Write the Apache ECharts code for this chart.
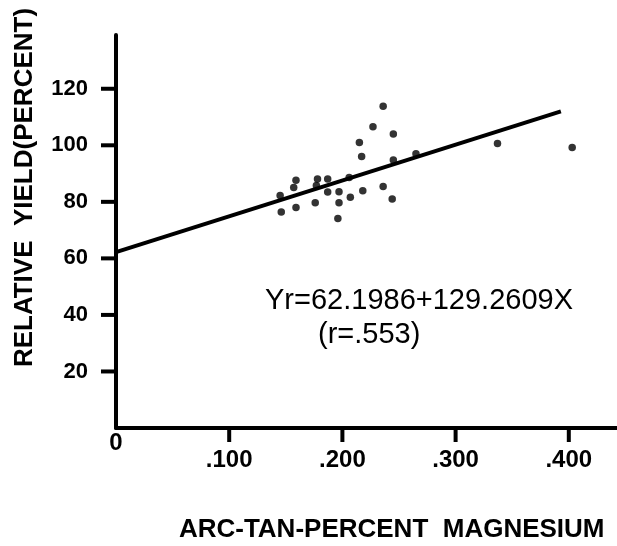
<!DOCTYPE html>
<html>
<head>
<meta charset="utf-8">
<script src="https://cdn.jsdelivr.net/npm/echarts@6/dist/echarts.min.js"></script>
<style>
html,body{margin:0;padding:0;background:#fff;}
#chart{width:617px;height:546px;}
</style>
</head>
<body>
<div id="chart"></div>
<script>
// Observed points: arc-tan-percent magnesium vs relative yield (percent)
const magX = [0.145, 0.146, 0.157, 0.159, 0.159, 0.176, 0.177, 0.178, 0.187, 0.187,
              0.197, 0.197, 0.196, 0.206, 0.207, 0.215, 0.217, 0.218, 0.227, 0.236,
              0.236, 0.245, 0.245, 0.244, 0.265, 0.337, 0.403];
const yieldY = [82.2, 76.4, 85.1, 87.6, 78.0, 79.7, 85.8, 88.1, 88.1, 83.5,
                83.6, 79.7, 74.1, 88.6, 81.6, 101.0, 96.0, 83.9, 106.6, 113.8,
                85.4, 104.0, 94.8, 81.0, 97.0, 100.6, 99.2];
// Regression line endpoints as drawn
const fitX = [0, 0.393];
const fitY = [62.2, 112.0];
// Tick values
const xTicks = [0.1, 0.2, 0.3, 0.4];
const xLabels = [0, 0.1, 0.2, 0.3, 0.4];
const yTicks = [20, 40, 60, 80, 100, 120];
const eqLine1 = 'Yr=62.1986+129.2609X';
const eqLine2 = '(r=.553)';

// layout
const GL = 116, G0 = 428;            // pixel of x=0 / y=0
const XMAX = 0.45, XPX = 1132;       // px per unit x
const YMAX = 139, YPX = 2.827;       // px per unit y
const YTICK_LEN = 15, XTICK_LEN = 14;

const FONT = '"Liberation Sans", Arial, sans-serif';
const chart = echarts.init(document.getElementById('chart'));
chart.setOption({
  backgroundColor: '#ffffff',
  animation: false,
  grid: { left: GL, top: G0 - YMAX * YPX, width: XMAX * XPX, height: YMAX * YPX, outerBoundsMode: 'none', containLabel: false },
  xAxis: {
    type: 'value', min: 0, max: XMAX,
    splitLine: { show: false },
    axisLine: { show: true, onZero: false, lineStyle: { color: '#000', width: 4 } },
    axisTick: { show: false },
    axisLabel: {
      customValues: xLabels, margin: 3, color: '#000',
      fontFamily: FONT, fontWeight: 'bold', fontSize: 24,
      formatter: function (v) { return v === 0 ? '{z|0}' : '{n|' + v.toFixed(3).replace(/^0/, '') + '}'; },
      rich: {
        z: { fontFamily: FONT, fontWeight: 'bold', fontSize: 24, color: '#000' },
        n: { fontFamily: FONT, fontWeight: 'bold', fontSize: 24, color: '#000', padding: [17, 0, 0, 0] }
      }
    },
    name: 'ARC-TAN-PERCENT  MAGNESIUM', nameLocation: 'middle', nameGap: 89,
    nameTextStyle: { fontFamily: FONT, fontWeight: 'bold', fontSize: 26, color: '#000', padding: [0, 0, 0, 42] }
  },
  yAxis: {
    type: 'value', min: 0, max: YMAX,
    splitLine: { show: false },
    axisLine: { show: true, onZero: false, lineStyle: { color: '#000', width: 4 } },
    axisTick: { show: false },
    axisLabel: {
      customValues: yTicks, margin: 28, color: '#000',
      fontFamily: FONT, fontWeight: 'bold', fontSize: 22, padding: [0, 0, 8, 0]
    },
    name: 'RELATIVE  YIELD(PERCENT)', nameLocation: 'middle', nameGap: 78,
    nameTextStyle: { fontFamily: FONT, fontWeight: 'bold', fontSize: 26, color: '#000', padding: [0, 0, 0, 88] }
  },
  series: [
    {
      type: 'scatter', symbol: 'circle', symbolSize: 7.5,
      itemStyle: { color: '#000' },
      data: magX.map(function (x, i) { return [x, yieldY[i]]; })
    },
    {
      type: 'line', showSymbol: false, symbol: 'none',
      lineStyle: { color: '#000', width: 4 },
      data: fitX.map(function (x, i) { return [x, fitY[i]]; })
    }
  ]
});

// Annotation text + outward tick marks placed through the chart's own scales
var gfx = [
  { type: 'text', left: 265, top: 286, z: 10, style: { text: eqLine1, font: 'normal 29px ' + FONT, fill: '#000' } },
  { type: 'text', left: 318, top: 320, z: 10, style: { text: eqLine2, font: 'normal 29px ' + FONT, fill: '#000' } }
];
yTicks.forEach(function (v) {
  var p = chart.convertToPixel({ gridIndex: 0 }, [0, v]);
  gfx.push({ type: 'line', z: 10, shape: { x1: p[0] - YTICK_LEN, y1: p[1], x2: p[0], y2: p[1] }, style: { stroke: '#000', lineWidth: 4 } });
});
xTicks.forEach(function (v) {
  var p = chart.convertToPixel({ gridIndex: 0 }, [v, 0]);
  gfx.push({ type: 'line', z: 10, shape: { x1: p[0], y1: p[1], x2: p[0], y2: p[1] + XTICK_LEN }, style: { stroke: '#000', lineWidth: 4 } });
});
chart.setOption({ graphic: gfx });
</script>
</body>
</html>
